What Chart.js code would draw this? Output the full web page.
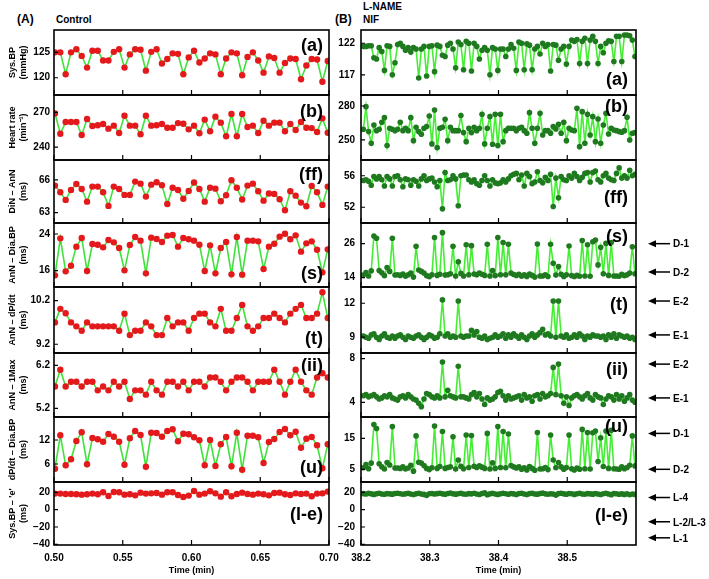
<!DOCTYPE html>
<html>
<head>
<meta charset="utf-8">
<script src="https://cdn.jsdelivr.net/npm/chart.js@4.4.0/dist/chart.umd.min.js"></script>
<style>
  body { margin: 0; background: #fff; width: 709px; height: 579px; position: relative; overflow: hidden;
         font-family: "Liberation Sans", Arial, sans-serif; }
  canvas { position: absolute; }
  .t { position: absolute; font-weight: bold; color: #000; white-space: nowrap; }
</style>
</head>
<body>
<div class="t" style="left:17px;top:13px;font-size:12px;line-height:12px">(A)</div>
<div class="t" style="left:56px;top:15px;font-size:10px;line-height:10px">Control</div>
<div class="t" style="left:335px;top:13px;font-size:12px;line-height:12px">(B)</div>
<div class="t" style="left:363px;top:2px;font-size:10px;line-height:10px">L-NAME</div>
<div class="t" style="left:363px;top:15px;font-size:10px;line-height:10px">NIF</div>
<script>
// ---- data: control (left column), one value per beat ----
var sysBpL = [125.0,125.0,120.7,125.0,125.6,124.3,122.0,125.3,125.3,123.4,
  123.4,125.1,125.6,122.0,124.6,125.6,125.5,121.4,125.1,125.6,
  122.8,123.7,124.8,124.7,120.7,124.0,125.3,123.0,123.8,124.8,
  124.6,120.7,123.8,125.0,124.8,120.5,124.1,125.0,123.4,121.0,
  124.2,123.9,121.0,122.9,123.8,123.7,119.7,122.4,123.7,123.6,
  119.2,123.3];
var heartRateL = [269.1,251.5,261.6,261.6,261.6,250.4,264.2,258.2,258.8,259.9,
  255.9,258.5,252.1,267.1,258.5,258.5,251.0,267.1,258.5,258.8,
  259.9,256.7,256.7,260.7,260.2,255.3,258.5,251.9,263.7,253.6,
  266.3,261.1,249.3,268.6,249.3,268.6,257.3,258.5,252.1,262.8,
  258.5,261.1,261.1,253.6,259.9,254.7,261.6,256.7,256.4,253.0,
  264.8,252.4];
var dinAnnL = [65.48,64.87,64.17,65.08,65.63,65.17,64.01,65.39,65.39,64.87,
  63.62,65.39,65.17,64.63,64.63,65.85,65.66,64.47,65.57,65.79,
  65.51,63.80,65.29,65.08,64.28,64.99,65.76,65.17,64.01,65.29,
  65.20,64.04,64.60,65.97,65.29,64.20,65.48,65.66,64.96,64.10,
  64.75,64.72,64.23,63.22,64.96,64.56,63.92,63.58,65.45,64.87,
  63.71,65.39];
var annDiaL = [14.98,23.05,15.85,17.09,21.24,23.13,15.93,21.82,21.67,21.09,
  22.69,22.18,20.95,16.07,21.60,23.35,22.55,15.42,23.20,22.91,
  22.25,23.64,23.78,21.24,23.13,22.84,22.55,21.67,15.93,21.53,
  15.42,20.95,22.25,15.20,23.35,15.13,22.55,22.55,22.40,16.36,
  21.24,21.89,23.42,24.07,22.84,23.71,20.15,21.96,22.40,20.58,
  15.64,20.65];
var annDpdtL = [9.70,10.01,9.91,9.70,9.61,9.51,9.70,9.61,9.61,9.61,
  9.61,9.61,9.51,9.90,9.41,9.51,9.51,9.70,9.61,9.41,
  9.41,9.80,9.61,9.70,9.70,9.51,9.80,9.90,9.90,9.70,
  9.61,10.01,9.51,9.51,9.80,10.10,9.61,9.51,9.61,9.80,
  9.80,9.90,9.80,9.70,9.90,10.01,10.10,9.80,9.80,9.90,
  10.39,9.80];
var ann1MaxL = [5.71,6.10,5.71,5.82,5.82,5.71,5.82,5.82,5.62,5.71,
  5.62,5.82,5.71,5.82,5.42,5.62,5.62,5.52,5.82,5.62,
  5.52,5.82,5.82,5.71,5.82,5.62,5.82,5.82,5.71,5.92,
  5.92,5.82,5.62,5.82,5.92,5.92,5.82,5.62,5.82,5.82,
  5.82,6.10,5.82,5.52,5.82,6.10,5.82,5.62,5.52,5.92,
  6.02,5.92];
var dpdtDiaL = [4.83,13.17,5.67,7.17,11.75,13.92,5.92,12.50,12.17,11.58,
  13.50,12.83,11.58,5.83,12.42,14.25,13.25,5.33,13.83,13.75,
  12.83,14.25,14.67,11.67,13.58,13.42,12.67,11.92,5.67,12.00,
  5.50,10.92,12.75,5.42,13.83,4.58,13.08,13.08,12.67,6.25,
  11.50,12.25,14.00,14.75,13.17,14.08,10.08,12.33,12.75,10.67,
  4.92,10.92];
var sysBpEL = [18.5,18.5,18.1,18.1,17.7,17.3,17.7,18.5,17.7,20.0,
  15.8,20.4,20.0,17.3,17.7,16.5,19.6,18.5,18.8,19.2,
  17.3,20.0,20.0,16.9,14.6,16.2,21.5,17.3,18.5,21.2,
  18.8,15.0,20.0,15.4,18.1,19.6,18.1,17.3,18.5,17.7,
  16.5,19.2,19.6,17.7,16.9,18.8,18.1,18.5,15.4,18.5,
  18.8,20.8];

// ---- data: L-NAME + NIF (right column) ----
var sysBpR = [121.5,121.5,121.6,121.6,119.7,119.5,121.3,120.7,117.7,121.6,
  121.5,117.0,118.9,121.8,122.0,121.5,120.9,121.3,120.6,121.3,
  121.1,116.5,121.1,121.5,116.8,121.5,121.6,117.5,121.7,121.5,
  120.1,119.9,121.7,122.0,121.1,118.1,122.2,121.8,117.8,122.3,
  122.0,117.6,122.0,121.5,119.5,120.9,121.3,120.9,117.0,121.3,
  121.1,117.7,121.1,121.1,119.9,121.1,121.8,121.2,117.7,122.2,
  122.0,117.8,121.9,121.7,117.8,121.1,121.5,120.3,122.0,121.5,
  121.8,117.6,121.8,121.7,119.3,121.1,121.5,118.7,121.5,122.5,
  122.3,122.6,118.8,122.3,122.8,118.8,122.5,123.1,122.3,118.8,
  121.5,120.5,122.0,122.4,122.3,119.1,123.1,123.1,119.1,123.3,
  123.3,123.2,122.5,119.9];
var heartRateR = [259.4,279.4,257.4,247.1,263.2,258.2,259.4,265.6,269.7,245.0,
  260.3,259.4,258.2,259.4,265.6,258.2,260.3,258.2,269.7,249.4,
  261.2,257.4,255.0,260.3,261.8,271.2,246.5,276.5,243.2,260.3,
  261.2,268.2,249.4,261.2,258.2,258.2,258.2,271.5,256.5,248.5,
  260.3,256.5,261.2,258.2,260.3,272.6,246.5,260.3,270.6,246.2,
  272.6,245.0,272.6,248.5,258.2,260.3,260.3,260.3,258.2,260.3,
  261.2,258.2,255.9,274.1,260.3,247.1,260.3,273.5,254.4,258.2,
  258.2,255.9,261.8,259.7,263.8,255.9,265.6,249.4,260.3,258.8,
  258.2,277.9,244.1,275.0,247.1,272.6,254.4,270.6,248.5,268.5,
  247.1,263.2,273.5,255.3,260.3,258.8,258.2,257.4,256.8,258.2,
  270.0,250.0,255.9,256.5];
var dinAnnR = [55.4,55.5,55.3,54.8,55.9,55.6,55.9,55.5,54.7,55.9,
  55.6,54.7,55.9,56.0,55.5,54.6,55.6,55.5,54.8,55.5,
  55.3,54.7,55.6,56.0,55.4,55.6,55.7,55.2,54.6,55.4,
  51.8,56.4,55.4,55.5,56.0,55.6,52.2,56.0,56.1,56.1,
  55.5,55.2,55.5,55.0,54.8,55.4,56.0,55.4,54.7,55.5,
  55.1,55.0,55.1,55.5,55.2,55.6,56.0,56.2,56.3,55.5,
  56.1,54.7,56.3,55.9,55.0,55.2,56.5,55.4,55.1,55.8,
  55.4,56.2,52.1,55.7,53.2,55.9,55.5,55.4,56.0,55.7,
  56.3,55.9,55.4,55.8,56.3,56.4,55.2,56.4,56.6,55.5,
  55.2,56.0,56.3,55.7,55.5,55.4,56.3,57.0,55.7,56.0,
  55.7,56.7,56.0,56.2];
var annDiaR = [14.9,15.8,14.6,16.4,28.7,27.9,16.5,15.7,14.7,17.6,
  16.2,27.9,14.9,15.0,14.8,15.3,14.5,15.0,15.6,14.2,
  25.1,16.7,16.2,15.6,14.7,14.3,15.0,28.2,14.8,15.2,
  29.9,14.9,15.0,15.4,25.1,14.6,19.6,15.5,14.6,25.6,
  15.0,25.3,15.3,15.0,15.6,15.2,14.8,25.8,14.6,16.5,
  14.7,28.2,15.0,26.4,15.0,25.8,15.6,15.1,14.8,15.2,
  14.5,15.0,14.4,15.3,14.8,14.2,25.9,14.6,14.6,15.0,
  14.4,25.8,19.1,14.9,17.9,15.2,14.4,15.0,25.2,14.7,
  14.4,14.8,14.5,27.1,14.6,25.6,14.5,26.7,27.3,18.5,
  24.7,15.4,26.1,14.8,26.4,14.6,14.6,14.5,15.2,14.7,
  15.0,15.6,24.9,15.4];
var annDpdtR = [9.1,9.0,8.9,9.2,9.3,9.0,8.8,9.1,9.3,9.0,
  8.9,9.1,8.9,9.1,9.2,9.0,8.8,9.1,9.0,8.9,
  9.1,9.2,9.0,8.8,9.0,9.2,9.1,8.9,9.0,9.3,
  12.3,9.1,9.3,9.0,9.1,9.0,12.2,9.1,9.0,9.1,
  9.1,9.6,9.2,9.5,9.0,8.9,9.1,8.8,8.9,9.0,
  9.2,9.0,9.1,9.3,8.9,9.2,9.0,9.3,9.1,8.9,
  9.2,9.0,8.8,9.1,9.3,9.0,9.2,9.4,9.7,9.2,
  9.3,9.1,12.2,9.0,12.2,9.1,9.0,9.2,8.9,9.0,
  9.2,9.0,9.3,9.1,8.8,9.1,9.0,9.2,9.1,9.1,
  9.0,9.1,8.8,9.2,9.0,9.3,8.9,9.2,9.1,9.0,
  9.1,8.9,9.0,8.8];
var ann1MaxR = [4.6,4.7,4.5,4.6,4.7,4.5,4.3,4.4,4.6,4.5,
  4.7,4.4,4.3,4.2,4.5,4.6,4.4,4.7,4.5,4.3,
  4.2,3.9,3.6,4.3,4.8,4.7,4.5,4.4,4.6,4.4,
  7.7,4.5,5.1,4.6,4.5,4.4,7.3,4.5,4.5,4.4,
  4.3,4.7,4.9,4.5,4.8,4.3,3.8,4.4,4.2,4.3,
  4.5,4.9,5.0,4.6,4.2,4.6,4.3,4.4,4.5,4.6,
  4.2,4.7,4.4,4.5,4.1,4.6,4.7,4.3,4.8,4.5,
  4.6,4.8,7.2,4.7,7.5,4.6,3.9,4.5,3.7,4.4,
  4.6,4.7,4.5,4.3,4.6,4.8,4.4,4.2,4.7,4.5,
  4.4,3.8,4.3,4.6,4.5,4.2,4.7,4.3,4.6,4.1,
  4.4,4.7,4.2,4.0];
var dpdtDiaR = [5.5,6.5,5.2,7.0,19.5,18.2,6.8,5.8,5.1,7.2,
  6.4,18.8,5.4,5.4,5.3,5.8,5.1,5.4,6.3,4.4,
  15.8,7.3,7.0,6.2,5.3,4.9,5.5,19.0,5.3,5.9,
  17.2,5.3,5.6,5.8,15.5,5.1,8.0,6.0,5.2,16.1,
  5.6,15.9,6.0,5.6,6.1,5.7,5.3,16.6,5.1,7.1,
  5.3,18.8,5.6,17.2,5.5,16.4,6.2,5.8,5.4,5.8,
  5.0,5.5,4.8,5.9,5.3,4.7,16.9,5.1,5.2,5.6,
  4.9,16.1,8.0,5.5,7.2,5.8,5.0,5.6,16.1,5.2,
  4.8,5.4,5.0,17.9,5.2,16.9,5.1,16.8,17.4,7.5,
  15.2,5.9,17.4,5.3,17.6,5.2,5.1,5.0,5.8,5.2,
  5.6,6.3,15.8,6.1];
var sysBpER = [18.5,18.0,18.8,18.2,17.6,18.4,18.9,18.1,17.8,18.5,
  18.2,17.9,18.6,19.0,18.3,17.7,18.2,18.8,18.0,17.5,
  18.4,18.9,18.1,17.6,16.5,18.3,18.7,18.0,18.5,18.9,
  18.2,17.8,18.6,19.2,18.4,17.9,18.3,18.8,18.1,17.7,
  18.5,18.2,18.9,18.0,17.4,18.6,19.4,17.3,18.2,18.8,
  18.1,17.6,18.4,19.0,18.3,17.8,18.6,18.2,17.5,18.7,
  18.9,18.0,17.4,18.5,18.8,18.1,17.9,18.6,19.1,18.2,
  17.7,18.4,18.0,16.8,18.5,18.9,18.2,17.8,18.6,18.3,
  17.6,18.4,18.9,18.1,17.7,18.5,18.2,17.9,18.7,18.0,
  17.5,18.3,18.8,18.1,17.3,18.6,18.4,17.8,18.2,17.6,
  18.4,17.2,18.0,17.6];

// ---- axes / labels ----
var panelNames = ['(a)', '(b)', '(ff)', '(s)', '(t)', '(ii)', '(u)', '(l-e)'];
var yTitles = [['Sys.BP', '(mmHg)'], ['Heart rate', '(min\u207B\u00B9)'], ['DiN \u2013 AnN', '(ms)'],
  ['AnN \u2013 Dia.BP', '(ms)'], ['AnN \u2013 dP/dt', '(ms)'], ['AnN \u2013 1Max', '(ms)'],
  ['dP/dt \u2013 Dia.BP', '(ms)'], ['Sys.BP \u2013 \'e\'', '(ms)']];
var yTicksL = [[120, 125], [240, 270], [63, 66], [16, 24], [9.2, 10.2], [5.2, 6.2], [6, 12], [-40, -20, 0, 20]];
var yTicksR = [[117, 122], [250, 280], [52, 56], [14, 26], [9, 12], [4, 8], [5, 15], [-40, -20, 0, 20]];
var yRangeL = [[116.6, 129.4], [228.8, 285], [62.05, 67.83], [12.44, 26.4], [9.0, 10.51], [5.0, 6.49], [1.5, 17.75], [-40.8, 31.9]];
var yRangeR = [[113.8, 124.1], [232.3, 289.7], [50.0, 58.0], [10.7, 33.3], [7.6, 13.44], [2.65, 8.52], [0.9, 21.9], [-40.8, 31.9]];
var xTicksL = [0.50, 0.55, 0.60, 0.65, 0.70];
var xTicksR = [38.2, 38.3, 38.4, 38.5];
var arrowsR = [null, null, null, [[26, 'D-1'], [16, 'D-2']], [[12.2, 'E-2'], [9.2, 'E-1']],
  [[7.5, 'E-2'], [4.4, 'E-1']], [[16.6, 'D-1'], [5, 'D-2']], [[14, 'L-4'], [-14, 'L-2/L-3'], [-32.5, 'L-1']]];

Chart.defaults.font.family = '"Liberation Sans", Arial, sans-serif';
Chart.defaults.color = '#000';

var tops = [30, 95, 160, 223, 287, 353, 417, 482];
var plotBottom = 545;
var pad = 8;

var cols = [
  { left: 0, width: 350, axisW: 54, padR: 21, t0: 0.5007, dt: 0.00389, xMin: 0.5, xMax: 0.7,
    xTicks: xTicksL, digits: 2, yTicks: yTicksL, yRange: yRangeL, titles: yTitles, tickPad: 4,
    series: [sysBpL, heartRateL, dinAnnL, annDiaL, annDpdtL, ann1MaxL, dpdtDiaL, sysBpEL],
    labelY: [16, 17, 15, 51, 52, 13, 51, 33], labelDx: 6,
    point: '#e3191c', line: '#3fe23a', radius: 3.2, arrows: null },
  { left: 330, width: 379, axisW: 31, padR: 73, t0: 38.2034, dt: 0.003836, xMin: 38.2, xMax: 38.6,
    xTicks: xTicksR, digits: 1, yTicks: yTicksR, yRange: yRangeR, titles: null, tickPad: 6,
    series: [sysBpR, heartRateR, dinAnnR, annDiaR, annDpdtR, ann1MaxR, dpdtDiaR, sysBpER],
    labelY: [50, 12, 38, 14, 18, 17, 10, 34], labelDx: 8,
    point: '#1f7a1f', line: '#45ee35', radius: 2.8, arrows: arrowsR }
];

function framePlugin(col, i) {
  return {
    id: 'frame',
    afterDraw: function (chart) {
      var ctx = chart.ctx, a = chart.chartArea;
      var xs = chart.scales.x, ys = chart.scales.y;
      ctx.save();
      ctx.strokeStyle = '#000';
      ctx.lineWidth = 1.2;
      ctx.beginPath();
      col.xTicks.forEach(function (v) {
        var p = xs.getPixelForValue(v);
        ctx.moveTo(p, a.bottom); ctx.lineTo(p, a.bottom - 5);
      });
      col.yTicks[i].forEach(function (v) {
        var p = ys.getPixelForValue(v);
        ctx.moveTo(a.left, p); ctx.lineTo(a.left + 4, p);
      });
      ctx.stroke();
      ctx.lineWidth = 1.6;
      ctx.strokeRect(a.left, a.top, a.right - a.left, a.bottom - a.top);

      ctx.fillStyle = '#000';
      ctx.font = 'bold 18px "Liberation Sans", Arial, sans-serif';
      ctx.textAlign = 'right';
      ctx.textBaseline = 'middle';
      ctx.fillText(panelNames[i], a.right - col.labelDx, a.top + col.labelY[i]);

      var arr = col.arrows ? col.arrows[i] : null;
      if (arr) {
        ctx.font = 'bold 10px "Liberation Sans", Arial, sans-serif';
        ctx.textAlign = 'left';
        arr.forEach(function (it) {
          var p = ys.getPixelForValue(it[0]);
          var x0 = a.right + 12;
          ctx.lineWidth = 1.5;
          ctx.beginPath();
          ctx.moveTo(x0 + 5, p); ctx.lineTo(x0 + 22, p);
          ctx.stroke();
          ctx.beginPath();
          ctx.moveTo(x0, p); ctx.lineTo(x0 + 8, p - 3.5); ctx.lineTo(x0 + 8, p + 3.5);
          ctx.closePath(); ctx.fill();
          ctx.fillText(it[1], x0 + 25, p + 1);
        });
      }
      ctx.restore();
    }
  };
}

cols.forEach(function (col) {
  col.series.forEach(function (vals, i) {
    var last = i === col.series.length - 1;
    var top = tops[i] - pad;
    var bottom = last ? 579 : tops[i + 1] + pad;
    var cv = document.createElement('canvas');
    cv.width = col.width;
    cv.height = bottom - top;
    cv.style.left = col.left + 'px';
    cv.style.top = top + 'px';
    document.body.appendChild(cv);

    new Chart(cv, {
      type: 'line',
      data: {
        datasets: [{
          data: vals.map(function (v, k) { return { x: col.t0 + k * col.dt, y: v }; }),
          borderColor: col.line,
          borderWidth: 1.6,
          pointBackgroundColor: col.point,
          pointBorderColor: col.point,
          pointBorderWidth: 0,
          pointRadius: col.radius,
          pointHoverRadius: 0,
          tension: 0
        }]
      },
      options: {
        responsive: false,
        animation: false,
        events: [],
        layout: { autoPadding: false, padding: { top: pad, bottom: last ? 0 : pad, left: 0, right: col.padR } },
        plugins: { legend: { display: false }, tooltip: { enabled: false } },
        scales: {
          x: {
            type: 'linear', min: col.xMin, max: col.xMax, display: last,
            grid: { display: false, drawTicks: false }, border: { display: false },
            afterBuildTicks: function (s) { s.ticks = col.xTicks.map(function (v) { return { value: v }; }); },
            afterFit: function (s) {
              s.paddingLeft = 0; s.paddingRight = 0;
              if (last) s.height = 579 - plotBottom;
            },
            ticks: { padding: 7, autoSkip: false, maxRotation: 0, font: { size: 10, weight: 'bold' },
                     callback: function (v) { return Number(v).toFixed(col.digits); } },
            title: { display: true, text: 'Time (min)', font: { size: 9, weight: 'bold' }, padding: { top: 0, bottom: 3 } }
          },
          y: {
            min: col.yRange[i][0], max: col.yRange[i][1],
            grid: { display: false, drawTicks: false }, border: { display: false },
            afterBuildTicks: function (s) { s.ticks = col.yTicks[i].map(function (v) { return { value: v }; }); },
            afterFit: function (s) { s.width = col.axisW; s.paddingTop = 0; s.paddingBottom = 0; },
            ticks: { padding: col.tickPad, font: { size: 10, weight: 'bold' },
                     callback: function (v) { return String(v).replace('-', '\u2212'); } },
            title: col.titles ? { display: true, text: col.titles[i], font: { size: 9, weight: 'bold' },
                                  padding: { top: 7.6, bottom: 0 } } : { display: false }
          }
        }
      },
      plugins: [framePlugin(col, i)]
    });
  });
});
</script>
</body>
</html>
